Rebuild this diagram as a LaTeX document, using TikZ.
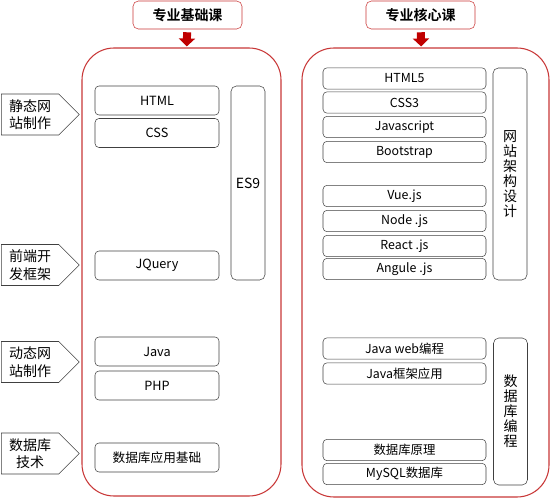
\documentclass[tikz,border=0pt]{standalone}
\usepackage{fontspec}
\setmainfont{Noto Sans CJK SC}[BoldFont={Noto Sans CJK SC Bold}]
\usetikzlibrary{shapes.symbols,arrows.meta}
\definecolor{arrowred}{RGB}{192,0,0}
\definecolor{framered}{RGB}{200,55,55}
\definecolor{boxgray}{RGB}{64,64,64}
\tikzset{
  title/.style={draw=framered, rounded corners=4pt, minimum width=81.75pt, minimum height=21pt, font=\bfseries\fontsize{10.5}{12}\selectfont},
  frame/.style={draw=framered, thick, rounded corners=24pt},
  downarrow/.style={arrowred, line width=6pt, -{Triangle[width=12pt,length=6pt]}, shorten <=2.25pt, shorten >=0.75pt},
  side/.style={draw=boxgray, signal, signal to=east, signal pointer angle=90, minimum width=58.5pt, minimum height=30.75pt, inner sep=1pt, align=center, anchor=west, font=\fontsize{10.5}{13}\selectfont},
  lcourse/.style={draw=boxgray, rounded corners=3pt, minimum width=93pt, minimum height=21.75pt, font=\fontsize{9.5}{11}\selectfont},
  rcourse/.style={draw=boxgray, rounded corners=3pt, minimum width=122.25pt, minimum height=16pt, inner sep=0pt, font=\fontsize{9.3}{11}\selectfont},
  vcourse/.style={draw=boxgray, rounded corners=4pt, minimum width=25.5pt, align=center, font=\fontsize{10.5}{11.3}\selectfont, inner sep=0pt}
}

\begin{document}
\begin{tikzpicture}[x=0.75pt, y=-0.75pt]
\useasboundingbox (0,0) rectangle (551,500);

% two columns
\node[title] (basic) at (187.5,15) {专业基础课};
\node[title] (core) at (420.5,15) {专业核心课};
\node[frame, minimum width=149.25pt, minimum height=336pt] (basicbox) at (181.5,272) {};
\node[frame, minimum width=185.25pt, minimum height=336.75pt] (corebox) at (425.5,272.5) {};
\draw[downarrow] (basic) -- (basicbox);
\draw[downarrow] (core) -- (corebox);

% left labels
\node[side] (static) at (1,114.5) {静态网\\站制作};
\node[side] (front) at (1,265) {前端开\\发框架};
\node[side] (dynamic) at (1,362) {动态网\\站制作};
\node[side] (dbtech) at (1,453.5) {数据库\\技术};

% basic courses
\node[lcourse] (html) at (157,100.5) {HTML};
\node[lcourse] (css) at (157,133) {CSS};
\node[lcourse] (jquery) at (157,265.5) {JQuery};
\node[lcourse] (java) at (157,351.5) {Java};
\node[lcourse] (php) at (157,385.5) {PHP};
\node[lcourse] (dbbase) at (157,457.5) {数据库应用基础};
\node[vcourse, minimum height=145.5pt] (es) at (248,183) {ES9};

% core courses
\node[rcourse] (html5) at (404.5,78.5) {HTML5};
\node[rcourse] (css3) at (404.5,102.5) {CSS3};
\node[rcourse] (js) at (404.5,127) {Javascript};
\node[rcourse] (boot) at (404.5,152) {Bootstrap};
\node[rcourse] (vue) at (404.5,196) {Vue.js};
\node[rcourse] (nodejs) at (404.5,221) {Node .js};
\node[rcourse] (react) at (404.5,246) {React .js};
\node[rcourse] (angule) at (404.5,269) {Angule .js};
\node[rcourse] (jweb) at (404.5,348.5) {Java web编程};
\node[rcourse] (jframe) at (404.5,373.5) {Java框架应用};
\node[rcourse] (dbprin) at (404.5,450) {数据库原理};
\node[rcourse] (mysql) at (404.5,474) {MySQL数据库};
\node[vcourse, minimum height=159pt] (webarch) at (510,174) {网\\站\\架\\构\\设\\计};
\node[vcourse, minimum height=110.25pt] (dbprog) at (510.5,411.5) {数\\据\\库\\编\\程};
\end{tikzpicture}
\end{document}
